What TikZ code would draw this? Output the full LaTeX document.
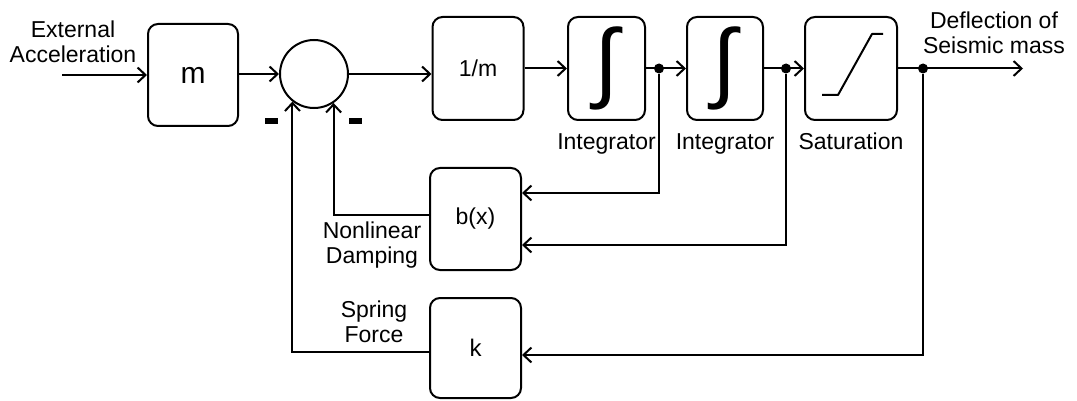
\documentclass[tikz,border=0pt]{standalone}
\usepackage{fontspec}
\setmainfont{Liberation Sans}
\usetikzlibrary{arrows.meta, positioning, calc}
\tikzset{
  blk/.style   = {rectangle, draw, rounded corners=10pt, line width=2pt,
                  align=center, font=\fontsize{23}{26}\selectfont,
                  minimum width=91pt, minimum height=103pt, inner sep=0pt},
  sumc/.style  = {circle, draw, line width=2pt, minimum size=68pt, inner sep=0pt},
  dot/.style   = {circle, fill, inner sep=0pt, minimum size=10pt},
  arr/.style   = {-{Straight Barb[length=8pt,width=15pt]}, line width=2pt},
  wire/.style  = {line width=2pt, line join=round},
  lbl/.style   = {font=\fontsize{23}{25}\selectfont, align=center, inner sep=0pt},
  minus/.style = {inner sep=0pt},
  bigint/.style= {font=\fontsize{88}{88}\selectfont},
}

\begin{document}
\begin{tikzpicture}[x=1pt, y=-1pt]
  \useasboundingbox (0,0) rectangle (1077,401);

  % forward path
  \coordinate (in) at (62,75);
  \node[blk, font=\fontsize{30}{30}\selectfont, minimum width=90pt,
        minimum height=102pt] (m) at (193,75) {m};
  \node[sumc] (sum) at (314,74) {};
  \node[blk] (inv) at (478,68.5) {1/m};
  \node[blk, bigint, minimum width=77pt] (int1) at (606.5,68.5) {∫};
  \node[blk, bigint, minimum width=76pt] (int2) at (725,68.5) {∫};
  \node[blk, minimum width=92pt] (sat) at (851,68.5) {};
  \coordinate (out) at (1023,68.5);
  \draw[wire] (822,95) -- (838,95) -- (872,34) -- (883,34);

  \node[dot] (v1) at (659,68.5) {};
  \node[dot] (v2) at (786,68.5) {};
  \node[dot] (v3) at (923,68.5) {};

  % feedback blocks
  \node[blk, minimum height=102pt] (damp) at (475.5,219) {b(x)};
  \node[blk, font=\fontsize{24}{26}\selectfont, minimum height=100pt]
    (spring) at (475.5,348) {k};

  % labels
  \node[lbl] (inlbl) at (73,42) {External\\Acceleration};
  \node[lbl] (outlbl) at (994,33) {Deflection of\\Seismic mass};
  \node[lbl, below=12pt of int1] (int1lbl) {Integrator};
  \node[lbl, below=12pt of int2] (int2lbl) {Integrator};
  \node[lbl, below=12pt of sat] (satlbl) {Saturation};
  \node[lbl] (damplbl) at (372,245) {Nonlinear\\Damping};
  \node[lbl] (springlbl) at (374,322) {Spring\\Force};
  \node[minus] (minusl) at (271,121) {\rule{13pt}{5.5pt}};
  \node[minus] (minusr) at (355,121) {\rule{13pt}{5.5pt}};

  % connectors
  \draw[arr] (in) -- (m);
  \draw[arr] (m.east |- sum) -- (sum);
  \draw[arr] (sum) -- (inv.west |- sum);
  \draw[arr] (inv) -- (int1);
  \draw[arr] (int1) -- (int2);
  \draw[arr] (int2) -- (sat);
  \draw[arr] (sat) -- (out);
  \draw[arr] (v1) |- ([yshift=26pt]damp.east);
  \draw[arr] (v2) |- ([yshift=-26pt]damp.east);
  \draw[arr] (v3) |- ([yshift=-7pt]spring.east);
  \draw[arr] ([yshift=4pt]damp.west) -| (sum.-56);
  \draw[arr] ([yshift=-4pt]spring.west) -| (sum.-128);
\end{tikzpicture}
\end{document}
